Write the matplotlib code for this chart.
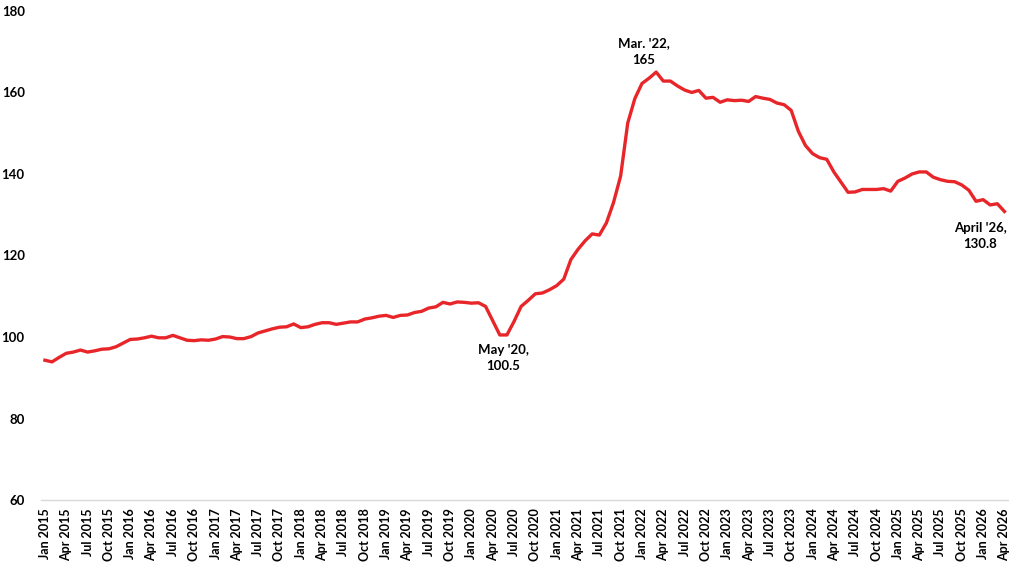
import matplotlib
matplotlib.use('Agg')
import matplotlib.pyplot as plt

# Monthly values Jan 2015 - Apr 2026
years = list(range(2015, 2027))
values = [
    # 2015
    94.3, 93.9, 95.0, 96.0, 96.3, 96.8, 96.3, 96.6, 97.0, 97.1, 97.6, 98.5,
    # 2016
    99.4, 99.5, 99.8, 100.2, 99.8, 99.8, 100.4, 99.8, 99.2, 99.1, 99.3, 99.2,
    # 2017
    99.5, 100.1, 100.0, 99.6, 99.6, 100.1, 101.0, 101.5, 102.0, 102.4, 102.5, 103.2,
    # 2018
    102.3, 102.5, 103.1, 103.5, 103.5, 103.1, 103.4, 103.7, 103.7, 104.4, 104.7, 105.1,
    # 2019
    105.3, 104.8, 105.3, 105.4, 106.0, 106.3, 107.1, 107.4, 108.5, 108.1, 108.6, 108.5,
    # 2020
    108.3, 108.4, 107.5, 104.0, 100.5, 100.5, 103.8, 107.5, 109.0, 110.6, 110.8, 111.6,
    # 2021
    112.6, 114.2, 119.0, 121.5, 123.6, 125.3, 125.0, 128.0, 133.0, 139.5, 152.5, 158.5,
    # 2022
    162.2, 163.5, 165.0, 162.8, 162.8, 161.6, 160.6, 160.0, 160.5, 158.6, 158.8, 157.6,
    # 2023
    158.2, 158.0, 158.1, 157.8, 159.0, 158.6, 158.3, 157.4, 157.0, 155.6, 150.5, 147.0,
    # 2024
    145.0, 144.0, 143.6, 140.5, 138.0, 135.5, 135.6, 136.2, 136.2, 136.2, 136.4, 135.8,
    # 2025
    138.2, 139.0, 140.0, 140.5, 140.5, 139.2, 138.6, 138.2, 138.1, 137.3, 136.0, 133.3,
    # 2026
    133.7, 132.4, 132.7, 130.8,
]

months = ['Jan', 'Apr', 'Jul', 'Oct']
tick_labels = []
for y in years:
    for m in months:
        tick_labels.append(f'{m} {y}')
tick_labels = tick_labels[:len(range(0, len(values), 3))]

annotations = [
    (64, "May '20,\n100.5"),
    (86, "Mar. '22,\n165"),
    (135, "April '26,\n130.8"),
]

plt.rcParams['font.family'] = ['Lato', 'DejaVu Sans']
plt.rcParams['font.weight'] = 'bold'

fig = plt.figure(figsize=(10.09, 5.68), dpi=100)
ax = fig.add_axes([0.041, 0.1197, 0.958, 0.861])

x = list(range(len(values)))
ax.plot(x, values, color='#E8262A', linewidth=2.4, solid_joinstyle='round')

ax.set_xlim(-0.5, len(values) - 0.5)
ax.set_ylim(60, 180)
ax.set_yticks(range(60, 181, 20))
ax.set_xticks(range(0, len(values), 3))
ax.set_xticklabels(tick_labels, rotation=90, fontsize=9, fontweight='bold')
ax.tick_params(axis='y', labelsize=9.5, length=0, pad=12)
ax.tick_params(axis='x', length=0, pad=6)
for lbl in ax.get_yticklabels():
    lbl.set_fontweight('bold')

for side in ['top', 'right', 'left']:
    ax.spines[side].set_visible(False)
ax.spines['bottom'].set_color('#D9D9D9')
ax.spines['bottom'].set_linewidth(1)

# Point labels
ax.text(64.5, 98.3, annotations[0][1], ha='center', va='top', fontsize=9.5,
        fontweight='bold', linespacing=1.45)
ax.text(84.3, 166.6, annotations[1][1], ha='center', va='bottom', fontsize=9.5,
        fontweight='bold', linespacing=1.45)
ax.text(131.6, 128.3, annotations[2][1], ha='center', va='top', fontsize=9.5,
        fontweight='bold', linespacing=1.45)

fig.savefig('out.png', dpi=100)
